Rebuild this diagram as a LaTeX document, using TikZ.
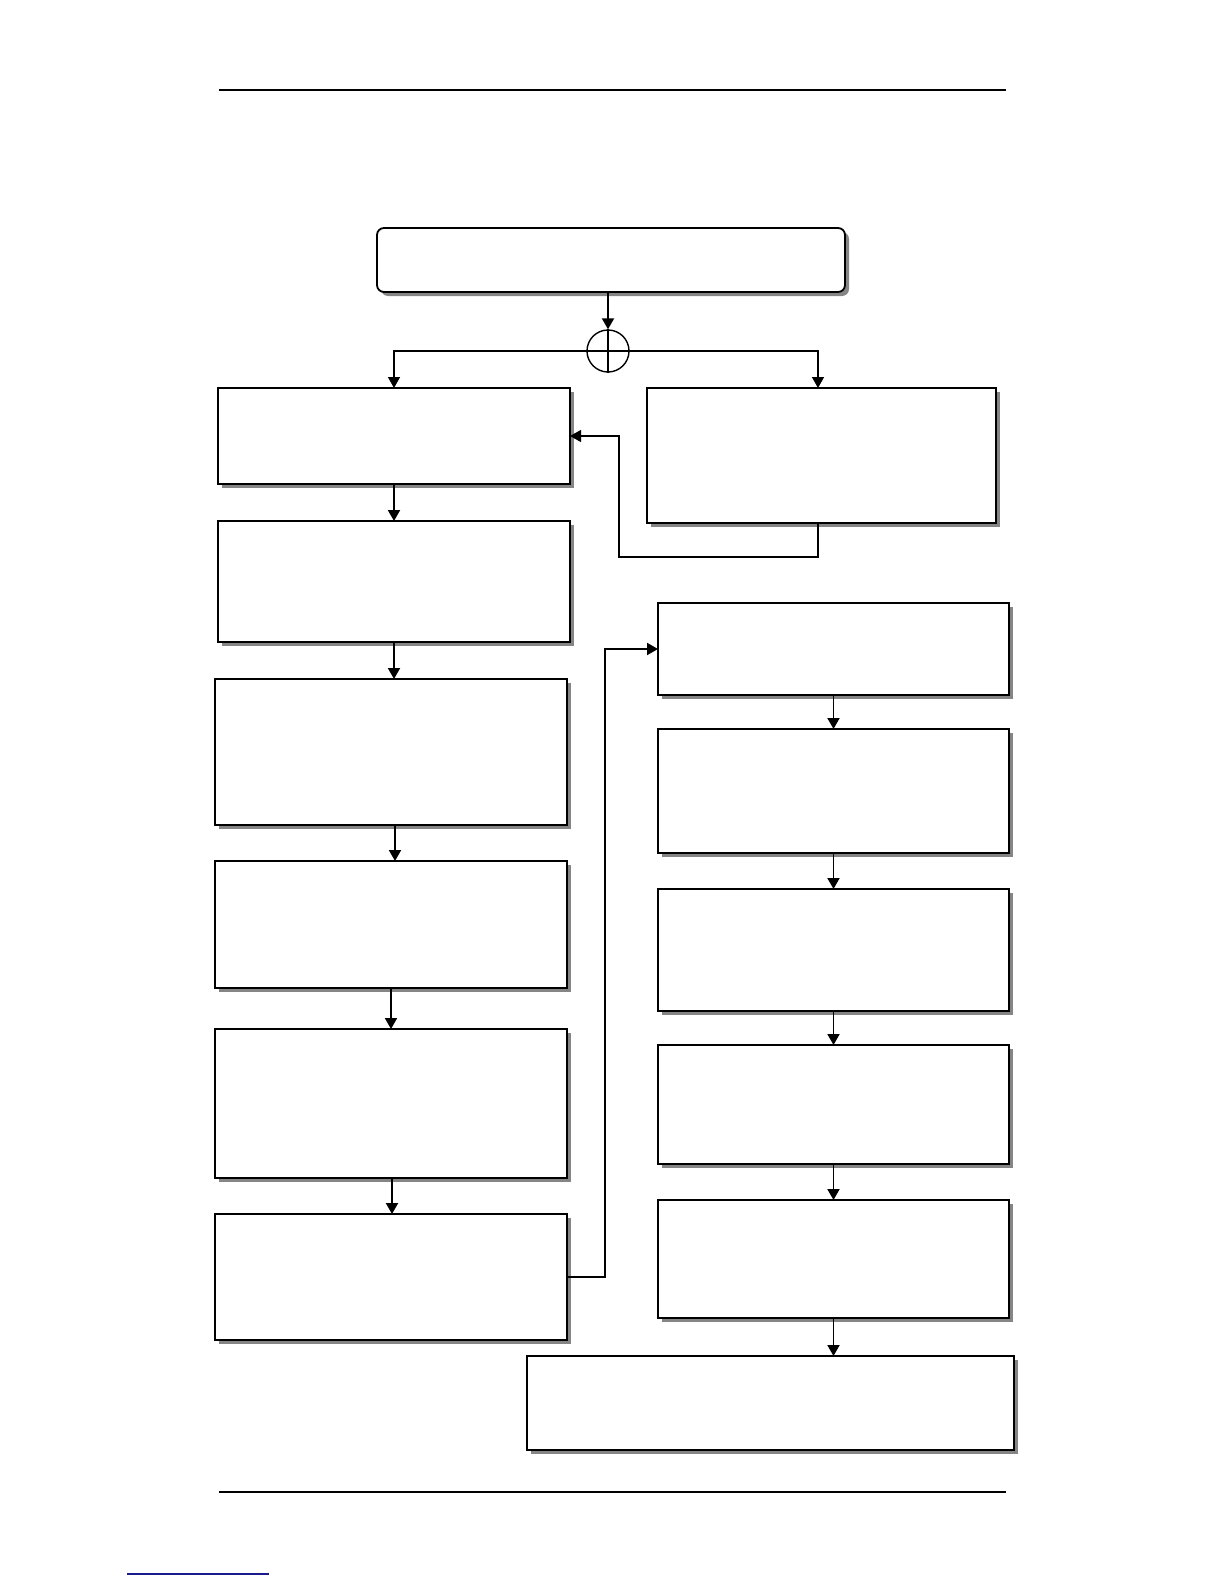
\documentclass[tikz,border=0pt]{standalone}
\usetikzlibrary{arrows.meta,shadows,fit,calc}
\definecolor{shadowgray}{HTML}{858585}
\definecolor{linkblue}{HTML}{1A1A8C}
\begin{document}
\begin{tikzpicture}[x=0.5pt,y=-0.5pt,
  box/.style={draw=black,line width=0.9pt,fill=white,inner sep=0pt,outer sep=0pt,
    drop shadow={shadow xshift=2pt,shadow yshift=-2pt,fill=shadowgray,opacity=1}},
  topbox/.style={box,rounded corners=3.5pt},
  arrow/.style={line width=0.95pt,-{Triangle[length=5.5pt,width=6pt]}},
  thinarrow/.style={line width=0.6pt,-{Triangle[length=5.5pt,width=6pt]}},
  rule/.style={line width=0.7pt}]
\useasboundingbox (0,0) rectangle (1224,1584);
% page rules
\draw[rule] (219,90) -- (1006,90);
\draw[rule] (219,1492) -- (1006,1492);
\draw[line width=0.6pt,linkblue] (127,1574) -- (269,1574);
% boxes
\node[topbox,fit={(377,228) (845,292)}] (T) {};
\node[draw,circle,line width=0.7pt,minimum size=21pt,inner sep=0pt] (C) at (608,351) {};
\node[box,fit={(218,388) (570,484)}] (L1) {};
\node[box,fit={(647,388) (996,523)}] (R0) {};
\node[box,fit={(218,521) (570,642)}] (L2) {};
\node[box,fit={(215,679) (567,825)}] (L3) {};
\node[box,fit={(215,861) (567,988)}] (L4) {};
\node[box,fit={(215,1029) (567,1178)}] (L5) {};
\node[box,fit={(215,1214) (567,1340)}] (L6) {};
\node[box,fit={(658,603) (1009,695)}] (R1) {};
\node[box,fit={(658,729) (1009,853)}] (R2) {};
\node[box,fit={(658,889) (1009,1011)}] (R3) {};
\node[box,fit={(658,1045) (1009,1164)}] (R4) {};
\node[box,fit={(658,1200) (1009,1318)}] (R5) {};
\node[box,fit={(527,1356) (1014,1450)}] (B) {};
% junction
\draw[arrow] (T.south -| C) -- (C.north);
\draw[line width=0.7pt] (C.north) -- (C.south);
\coordinate (rj) at (818,351);
\draw[arrow,line width=0.7pt] (C.center) -| (L1.north);
\draw[arrow,line width=0.7pt] (C.center) -- (rj) -- (rj |- R0.north);
% feedback
\coordinate (fb) at (619,557);
\draw[thinarrow] (R0.south -| rj) -- (fb -| rj) -- (fb) |- (L1.east);
% left column
\draw[arrow] (L1.south) -- (L1.south |- L2.north);
\draw[arrow] (L2.south) -- (L2.south |- L3.north);
\coordinate (a3) at (395,0);
\draw[arrow] (L3.south -| a3) -- (L4.north -| a3);
\coordinate (a4) at (391,0);
\draw[arrow] (L4.south -| a4) -- (L5.north -| a4);
\coordinate (a5) at (392,0);
\draw[arrow] (L5.south -| a5) -- (L6.north -| a5);
% cross connector
\coordinate (j) at (605,0);
\draw[arrow] (L6.east) -- (L6.east -| j) |- (R1.west);
% right column
\draw[arrow] (R1.south) -- (R2.north);
\draw[arrow] (R2.south) -- (R3.north);
\draw[arrow] (R3.south) -- (R4.north);
\draw[arrow] (R4.south) -- (R5.north);
\draw[arrow] (R5.south) -- (R5.south |- B.north);
\end{tikzpicture}
\end{document}
